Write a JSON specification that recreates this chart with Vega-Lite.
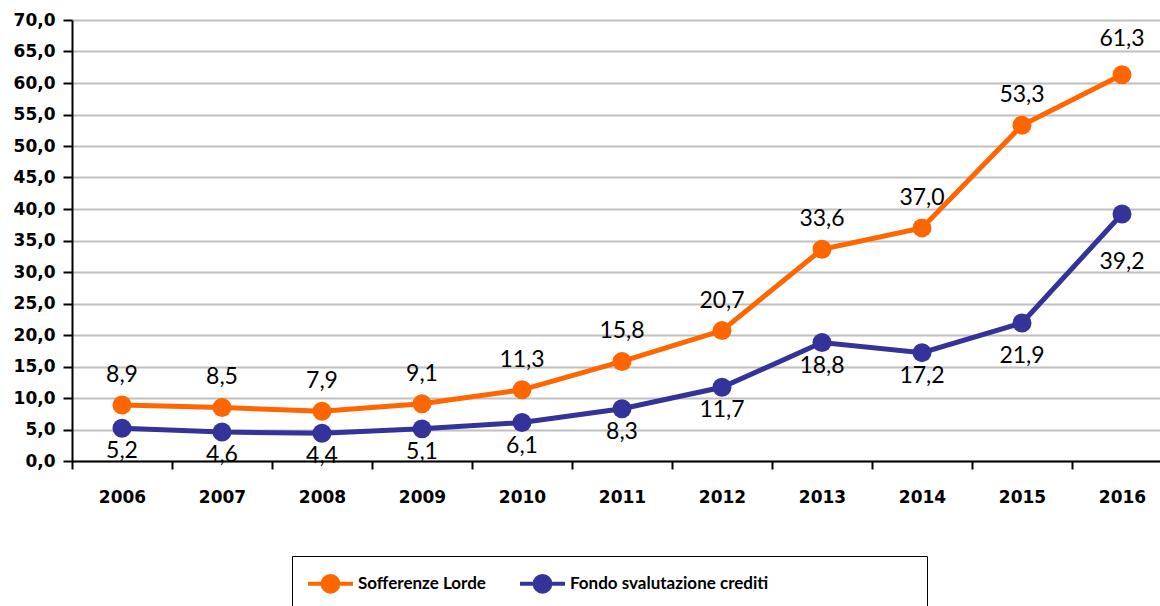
{
  "$schema": "https://vega.github.io/schema/vega-lite/v6.json",
  "width": 1100,
  "height": 441,
  "autosize": "none",
  "padding": {"left": 72, "top": 20, "right": 0, "bottom": 145},
  "background": "white",
  "config": {
    "locale": {"number": {"decimal": ",", "thousands": ".", "grouping": [3], "currency": ["€", ""]}},
    "view": {"stroke": null}
  },
  "data": {
    "values": [
      {"year": "2006", "series": "Sofferenze Lorde", "value": 8.9},
      {"year": "2007", "series": "Sofferenze Lorde", "value": 8.5},
      {"year": "2008", "series": "Sofferenze Lorde", "value": 7.9},
      {"year": "2009", "series": "Sofferenze Lorde", "value": 9.1},
      {"year": "2010", "series": "Sofferenze Lorde", "value": 11.3},
      {"year": "2011", "series": "Sofferenze Lorde", "value": 15.8},
      {"year": "2012", "series": "Sofferenze Lorde", "value": 20.7},
      {"year": "2013", "series": "Sofferenze Lorde", "value": 33.6},
      {"year": "2014", "series": "Sofferenze Lorde", "value": 37.0},
      {"year": "2015", "series": "Sofferenze Lorde", "value": 53.3},
      {"year": "2016", "series": "Sofferenze Lorde", "value": 61.3},
      {"year": "2006", "series": "Fondo svalutazione crediti", "value": 5.2},
      {"year": "2007", "series": "Fondo svalutazione crediti", "value": 4.6},
      {"year": "2008", "series": "Fondo svalutazione crediti", "value": 4.4},
      {"year": "2009", "series": "Fondo svalutazione crediti", "value": 5.1},
      {"year": "2010", "series": "Fondo svalutazione crediti", "value": 6.1},
      {"year": "2011", "series": "Fondo svalutazione crediti", "value": 8.3},
      {"year": "2012", "series": "Fondo svalutazione crediti", "value": 11.7},
      {"year": "2013", "series": "Fondo svalutazione crediti", "value": 18.8},
      {"year": "2014", "series": "Fondo svalutazione crediti", "value": 17.2},
      {"year": "2015", "series": "Fondo svalutazione crediti", "value": 21.9},
      {"year": "2016", "series": "Fondo svalutazione crediti", "value": 39.2}
    ]
  },
  "encoding": {
    "x": {
      "field": "year", "type": "ordinal",
      "scale": {"type": "band", "paddingInner": 0, "paddingOuter": 0},
      "axis": {
        "title": null, "labelAngle": 0, "grid": false,
        "tickBand": "extent", "domainColor": "black", "domainWidth": 2,
        "tickColor": "black", "tickWidth": 2, "tickSize": 8,
        "labelFont": "DejaVu Sans", "labelFontWeight": "bold", "labelFontSize": 17,
        "labelColor": "black", "labelPadding": 20
      }
    },
    "y": {
      "field": "value", "type": "quantitative",
      "scale": {"domain": [0, 70], "nice": false},
      "axis": {
        "title": null, "values": [0, 5, 10, 15, 20, 25, 30, 35, 40, 45, 50, 55, 60, 65, 70],
        "format": ".1f", "grid": true, "gridColor": "#C0C0C0", "gridWidth": 2,
        "domainColor": "black", "domainWidth": 2, "tickColor": "black", "tickWidth": 2, "tickSize": 9,
        "labelFont": "DejaVu Sans", "labelFontWeight": "bold", "labelFontSize": 17,
        "labelColor": "black", "labelPadding": 8
      }
    },
    "color": {"field": "series", "type": "nominal",
      "scale": {"domain": ["Sofferenze Lorde", "Fondo svalutazione crediti"], "range": ["#FF6600", "#333399"]},
      "legend": {
        "title": null, "orient": "none", "legendX": 220, "legendY": 536,
        "direction": "horizontal", "columns": 2,
        "strokeColor": "black", "padding": 14, "columnPadding": 26,
        "symbolType": "M-2,0H2M-0.7,0a0.7,0.7 0 1,0 1.4,0a0.7,0.7 0 1,0 -1.4,0Z",
        "symbolSize": 506, "symbolStrokeWidth": 4, "symbolOpacity": 1, "symbolOffset": 11,
        "labelFont": "Lato", "labelFontWeight": "bold", "labelFontSize": 17, "labelColor": "black",
        "labelLimit": 600, "labelOffset": 14,
        "labelExpr": "datum.label == 'Fondo svalutazione crediti' ? datum.label + '\u2800\u2800\u2800\u2800\u2800\u2800\u2800\u2800\u2800\u2800\u2800\u2800' : datum.label",
        "encode": {
          "symbols": {"update": {"stroke": {"scale": "color", "field": "value"}, "fill": {"scale": "color", "field": "value"}}}
        }
      }}
  },
  "layer": [
    {
      "mark": {"type": "line", "strokeWidth": 5, "interpolate": "linear"}
    },
    {
      "mark": {"type": "point", "filled": true, "size": 360, "opacity": 1}
    },
    {
      "transform": [{"filter": "datum.series == 'Sofferenze Lorde' && datum.year != '2016'"}],
      "mark": {"type": "text", "dy": -30, "font": "Lato", "fontSize": 23, "color": "black"},
      "encoding": {"text": {"field": "value", "type": "quantitative", "format": ".1f"}, "color": {"value": "black"}}
    },
    {
      "transform": [{"filter": "datum.series == 'Sofferenze Lorde' && datum.year == '2016'"}],
      "mark": {"type": "text", "dy": -36, "font": "Lato", "fontSize": 23, "color": "black"},
      "encoding": {"text": {"field": "value", "type": "quantitative", "format": ".1f"}, "color": {"value": "black"}}
    },
    {
      "transform": [{"filter": "datum.series == 'Fondo svalutazione crediti' && datum.year < '2015'"}],
      "mark": {"type": "text", "dy": 23, "font": "Lato", "fontSize": 23, "color": "black"},
      "encoding": {"text": {"field": "value", "type": "quantitative", "format": ".1f"}, "color": {"value": "black"}}
    },
    {
      "transform": [{"filter": "datum.series == 'Fondo svalutazione crediti' && datum.year == '2015'"}],
      "mark": {"type": "text", "dy": 33, "font": "Lato", "fontSize": 23, "color": "black"},
      "encoding": {"text": {"field": "value", "type": "quantitative", "format": ".1f"}, "color": {"value": "black"}}
    },
    {
      "transform": [{"filter": "datum.series == 'Fondo svalutazione crediti' && datum.year == '2016'"}],
      "mark": {"type": "text", "dy": 48, "font": "Lato", "fontSize": 23, "color": "black"},
      "encoding": {"text": {"field": "value", "type": "quantitative", "format": ".1f"}, "color": {"value": "black"}}
    }
  ]
}
